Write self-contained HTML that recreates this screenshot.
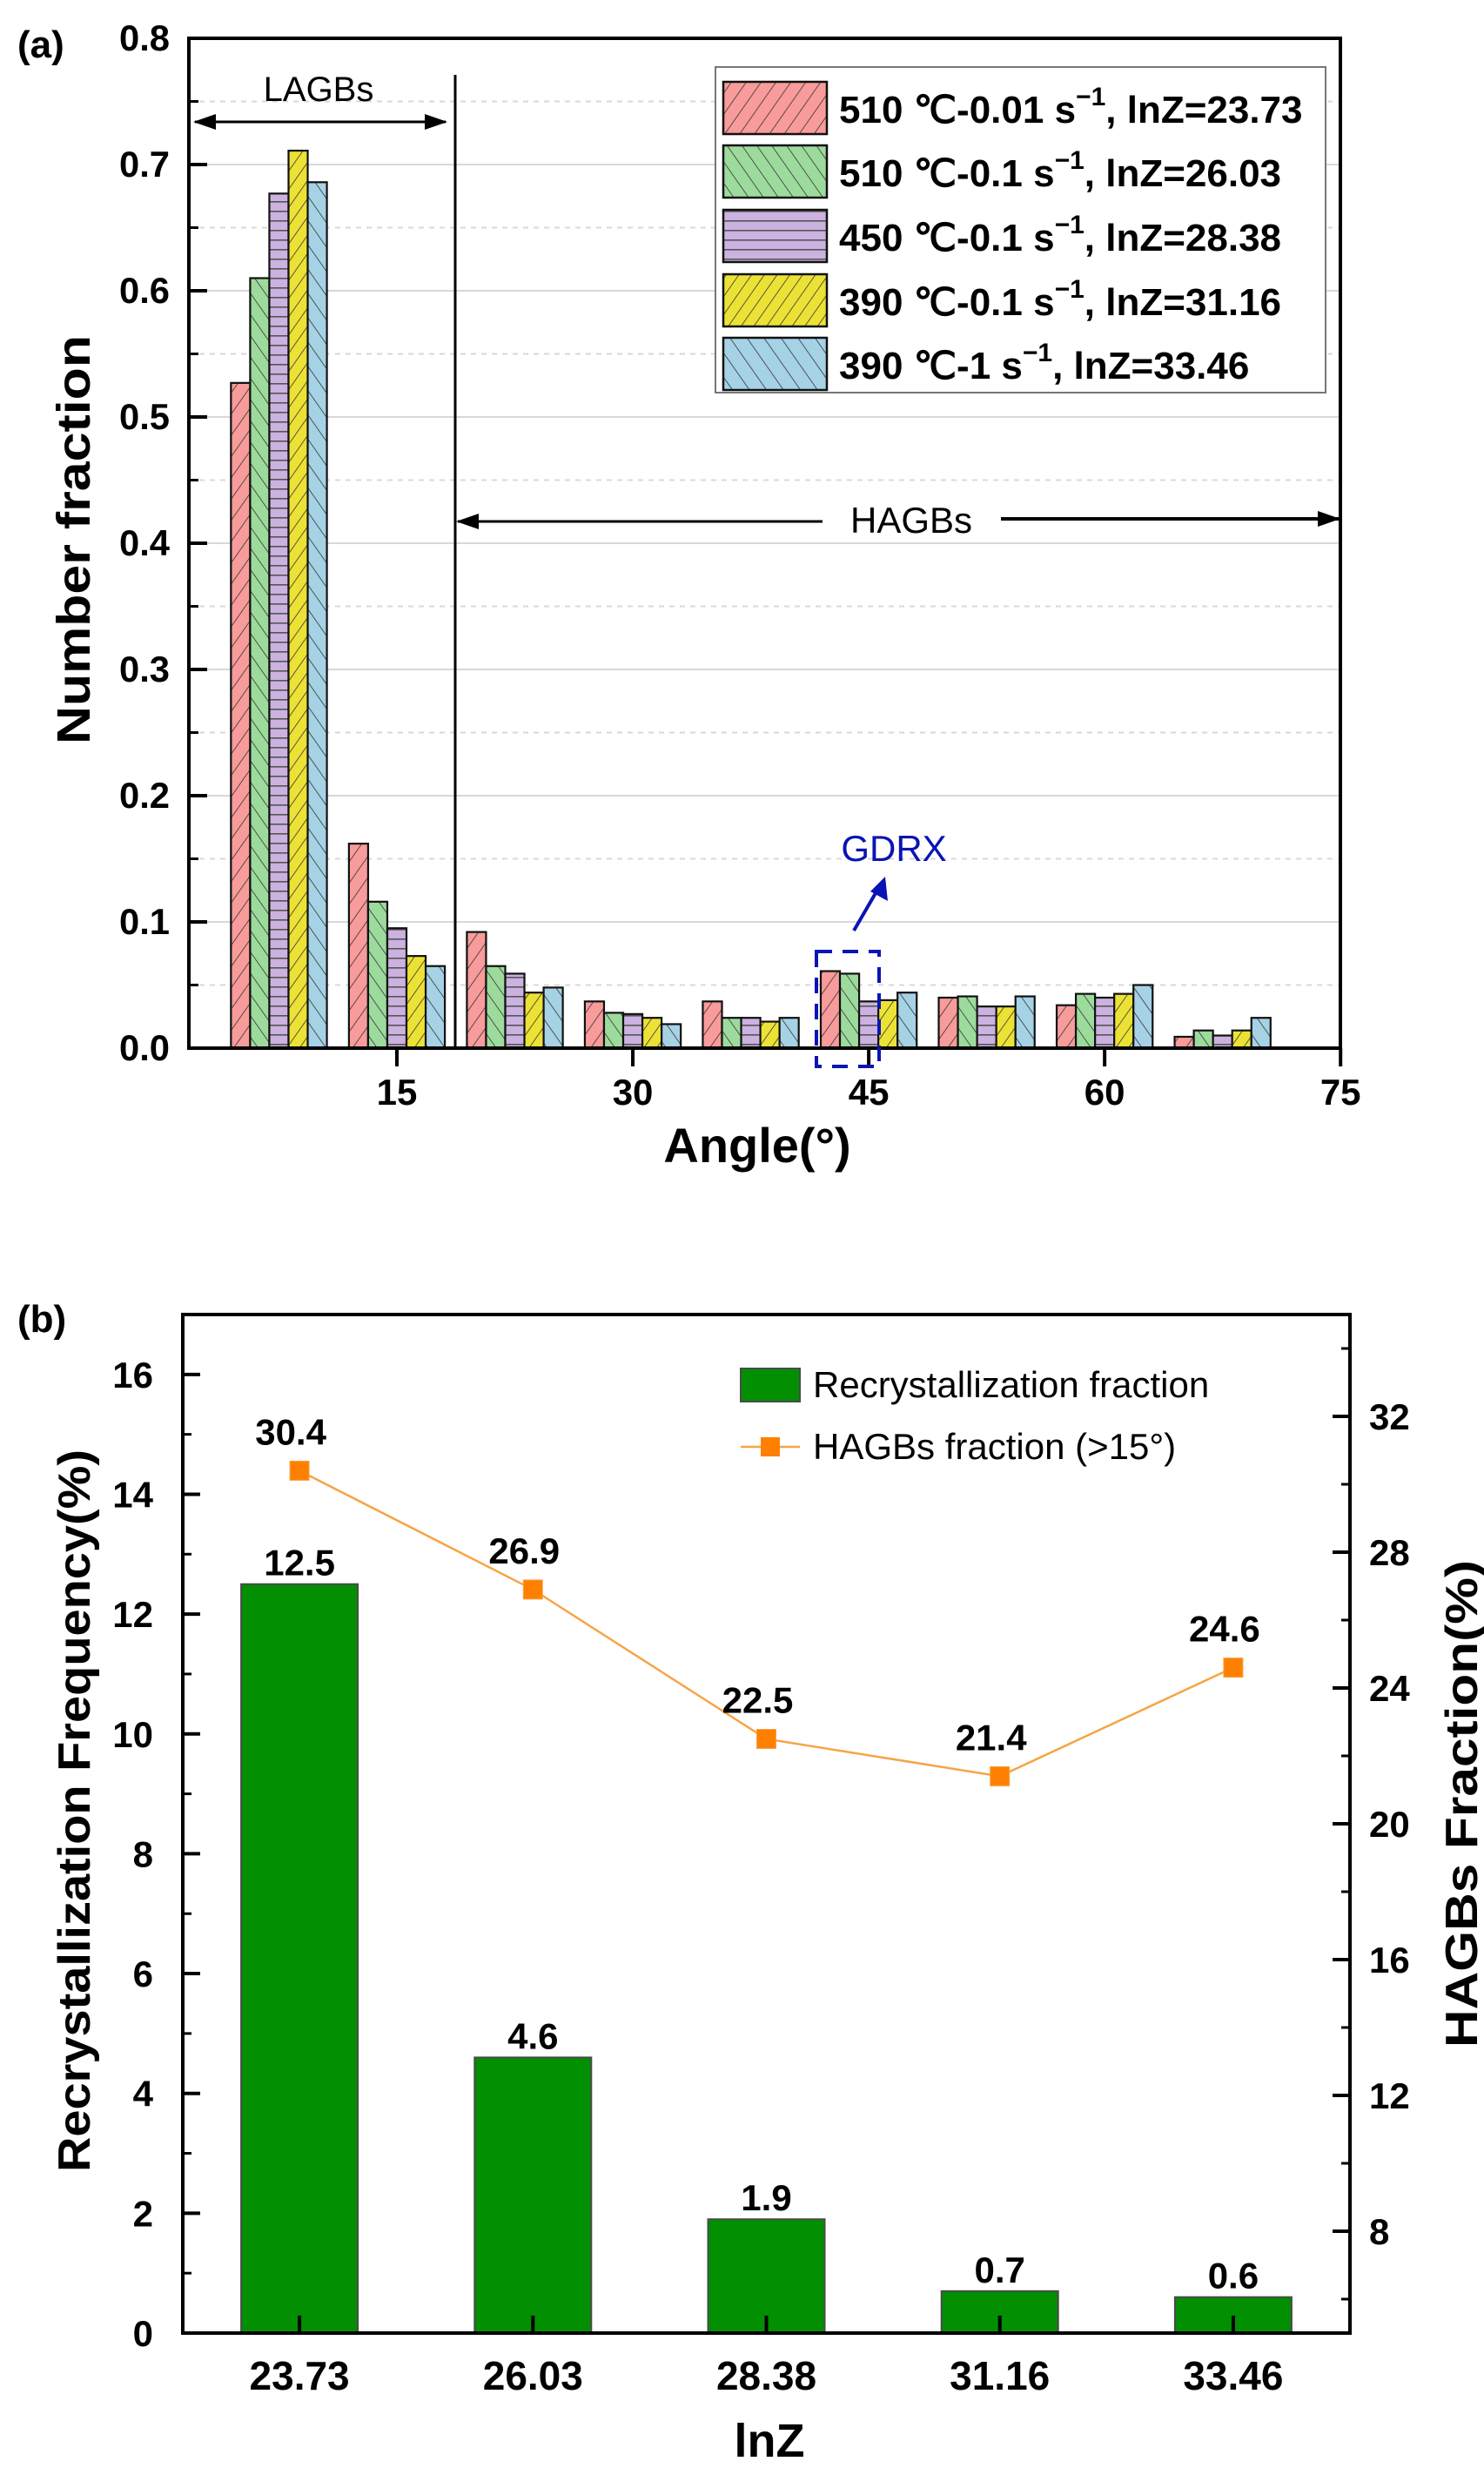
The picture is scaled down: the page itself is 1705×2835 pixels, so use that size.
<!DOCTYPE html>
<html><head><meta charset="utf-8"><style>
html,body{margin:0;padding:0;background:#fff}
svg{display:block}
text{font-family:"Liberation Sans Narrow","Liberation Sans",sans-serif}
.b{font-weight:bold}
.w{font-family:"Liberation Sans",sans-serif}
</style></head><body>
<svg id="fig" xmlns="http://www.w3.org/2000/svg" width="1705" height="2835" viewBox="0 0 1705 2835">
<defs>
<pattern id="pr" patternUnits="userSpaceOnUse" width="14" height="14" patternTransform="rotate(35)"><rect width="14" height="14" fill="#f89b9b"/><line x1="0" y1="0" x2="0" y2="14" stroke="#333" stroke-width="1.6"/></pattern>
<pattern id="pg" patternUnits="userSpaceOnUse" width="14" height="14" patternTransform="rotate(-35)"><rect width="14" height="14" fill="#9ddb9d"/><line x1="0" y1="0" x2="0" y2="14" stroke="#333" stroke-width="1.6"/></pattern>
<pattern id="pp" patternUnits="userSpaceOnUse" width="14" height="11"><rect width="14" height="11" fill="#cbb2e0"/><line x1="0" y1="0.8" x2="14" y2="0.8" stroke="#555" stroke-width="1.6"/></pattern>
<pattern id="py" patternUnits="userSpaceOnUse" width="12" height="12" patternTransform="rotate(35)"><rect width="12" height="12" fill="#ece236"/><line x1="0" y1="0" x2="0" y2="12" stroke="#333" stroke-width="1.6"/></pattern>
<pattern id="pb" patternUnits="userSpaceOnUse" width="16" height="16" patternTransform="rotate(-35)"><rect width="16" height="16" fill="#a6d2e6"/><line x1="0" y1="0" x2="0" y2="16" stroke="#333" stroke-width="1.6"/></pattern>
<marker id="ah" markerWidth="26" markerHeight="18" refX="24" refY="9" orient="auto-start-reverse" markerUnits="userSpaceOnUse"><path d="M0,0 L26,9 L0,18 Z" fill="#000"/></marker>
</defs>
<g id="ga"></g>
<g id="gb"></g>
</svg>
<script>
// ---------- Chart (a) data ----------
const angleCenters = [7.5, 15, 22.5, 30, 37.5, 45, 52.5, 60, 67.5];
const seriesNames = ["510 \u2103-0.01 s", "510 \u2103-0.1 s", "450 \u2103-0.1 s", "390 \u2103-0.1 s", "390 \u2103-1 s"];
const seriesLnZ = ["lnZ=23.73", "lnZ=26.03", "lnZ=28.38", "lnZ=31.16", "lnZ=33.46"];
const s510_001 = [0.527, 0.162, 0.092, 0.037, 0.037, 0.061, 0.040, 0.034, 0.009];
const s510_01  = [0.610, 0.116, 0.065, 0.028, 0.024, 0.059, 0.041, 0.043, 0.014];
const s450_01  = [0.677, 0.095, 0.059, 0.027, 0.024, 0.037, 0.033, 0.040, 0.010];
const s390_01  = [0.711, 0.073, 0.044, 0.024, 0.021, 0.038, 0.033, 0.043, 0.014];
const s390_1   = [0.686, 0.065, 0.048, 0.019, 0.024, 0.044, 0.041, 0.050, 0.024];
const aYTicks = [0.0, 0.1, 0.2, 0.3, 0.4, 0.5, 0.6, 0.7, 0.8];
const aXTicks = [15, 30, 45, 60, 75];
// ---------- Chart (b) data ----------
const lnZCats = ["23.73", "26.03", "28.38", "31.16", "33.46"];
const recryst = [12.5, 4.6, 1.9, 0.7, 0.6];
const hagbs = [30.4, 26.9, 22.5, 21.4, 24.6];
const bLeftTicks = [0, 2, 4, 6, 8, 10, 12, 14, 16];
const bRightTicks = [8, 12, 16, 20, 24, 28, 32];

const NS = "http://www.w3.org/2000/svg";
function mk(parent, tag, attrs, txt){
  const e = document.createElementNS(NS, tag);
  for (const k in attrs) e.setAttribute(k, attrs[k]);
  if (txt !== undefined) e.textContent = txt;
  parent.appendChild(e); return e;
}
const ga = document.getElementById('ga');
const gb = document.getElementById('gb');

// ===== Chart a =====
const aL = 217, aR = 1540, aT = 44, aB = 1204;
const ax = a => 456 + (a - 15) * 18.07;
const ay = v => aB - v / 0.8 * (aB - aT);
for (let v = 0.05; v < 0.8; v += 0.05) {
  const major = Math.abs(v*10 - Math.round(v*10)) < 1e-6;
  const gl = mk(ga, 'line', {x1:aL, x2:aR, y1:ay(v), y2:ay(v), stroke:'#d8d8d8', 'stroke-width':2, 'stroke-dasharray': major ? '' : '6,6'});
  
  
}
const aSeries = [s510_001, s510_01, s450_01, s390_01, s390_1];
const pats = ['pr','pg','pp','py','pb'];
const bw = 1.22;
aSeries.forEach((s, si) => {
  s.forEach((v, i) => {
    const a0 = angleCenters[i] - 2.5*bw + si*bw;
    const x0 = ax(a0), x1 = ax(a0 + bw);
    const r = mk(ga, 'rect', {x:x0, y:ay(v), width:x1-x0, height:aB-ay(v), fill:'url(#'+pats[si]+')', stroke:'#111', 'stroke-width':2.2});
    
    
  });
});
let fr = mk(ga, 'rect', {x:aL, y:aT, width:aR-aL, height:aB-aT, fill:'none', stroke:'#000', 'stroke-width':4});


aYTicks.forEach(v => {
  const t = mk(ga, 'line', {x1:aL, x2:aL+21, y1:ay(v), y2:ay(v), stroke:'#000', 'stroke-width':4});
  
  
  const l = mk(ga, 'text', {x:195, y:ay(v)+14, 'text-anchor':'end', 'font-size':42, class:'b', textLength:58, lengthAdjust:'spacingAndGlyphs'}, v.toFixed(1));
  
  
});
for (let v = 0.05; v < 0.8; v += 0.1) {
  const t = mk(ga, 'line', {x1:aL, x2:aL+11, y1:ay(v), y2:ay(v), stroke:'#000', 'stroke-width':3});
  
  
}
aXTicks.forEach(a => {
  const t = mk(ga, 'line', {x1:ax(a), x2:ax(a), y1:aB, y2:aB+21, stroke:'#000', 'stroke-width':4});
  
  
  const l = mk(ga, 'text', {x:ax(a), y:aB+65, 'text-anchor':'middle', 'font-size':42, class:'b'}, String(a));
  
  
});
</script>
<script>
(function(){
  let t;
  t = mk(ga, 'text', {x:20, y:66, 'font-size':44, class:'b w'}, '(a)');
   
  t = mk(ga, 'text', {x:870, y:1335, 'text-anchor':'middle', 'font-size':56, class:'b w'}, 'Angle(\u00b0)');
   
  t = mk(ga, 'text', {x:0, y:0, 'text-anchor':'middle', 'font-size':54, class:'b w', transform:'translate(103,620) rotate(-90)', textLength:470, lengthAdjust:'spacingAndGlyphs'}, 'Number fraction');
   
  t = mk(ga, 'line', {x1:523, x2:523, y1:86, y2:1204, stroke:'#000', 'stroke-width':3});
   
  t = mk(ga, 'line', {x1:224, x2:512, y1:140, y2:140, stroke:'#000', 'stroke-width':3, 'marker-end':'url(#ah)', 'marker-start':'url(#ah)'});
   
  t = mk(ga, 'text', {x:366, y:116, 'text-anchor':'middle', 'font-size':40, class:'w'}, 'LAGBs');
   
  t = mk(ga, 'line', {x1:945, x2:526, y1:599, y2:599, stroke:'#000', 'stroke-width':3, 'marker-end':'url(#ah)'});
   
  t = mk(ga, 'line', {x1:1150, x2:1538, y1:596, y2:596, stroke:'#000', 'stroke-width':4, 'marker-end':'url(#ah)'});
   
  t = mk(ga, 'text', {x:1047, y:612, 'text-anchor':'middle', 'font-size':42, class:'w'}, 'HAGBs');
   
  t = mk(ga, 'rect', {x:938, y:1093, width:72, height:132, fill:'none', stroke:'#0a14b4', 'stroke-width':4, 'stroke-dasharray':'18,12'});
   
  t = mk(ga, 'line', {x1:981, y1:1069, x2:1010, y2:1019, stroke:'#0a14b4', 'stroke-width':4});
   
  t = mk(ga, 'path', {d:'M1017,1007 L1020,1035 L1000,1024 Z', fill:'#0a14b4'});
   
  t = mk(ga, 'text', {x:1027, y:989, 'text-anchor':'middle', 'font-size':42, fill:'#0a14b4', class:'w'}, 'GDRX');
   
  t = mk(ga, 'rect', {x:822, y:77, width:701, height:374, fill:'#fff', stroke:'#777', 'stroke-width':2});
   
  const rowY = [124, 197, 271, 345, 418];
  seriesNames.forEach((n, i) => {
    const sw = mk(ga, 'rect', {x:831, y:rowY[i]-30, width:119, height:60, fill:'url(#'+pats[i]+')', stroke:'#111', 'stroke-width':2.5});
     
    const tx = mk(ga, 'text', {x:964, y:rowY[i]+17, 'font-size':44, class:'b'});
     
    mk(tx, 'tspan', {}, n);
    mk(tx, 'tspan', {dy:-20, 'font-size':30}, '\u22121');
    mk(tx, 'tspan', {dy:20}, ',  ' + seriesLnZ[i]);
  });
})();

// ===== Chart b =====
const bL = 210, bR = 1551, bT = 1510, bB = 2680;
const by = v => bB - v / 17 * (bB - bT);
const by2 = v => bB - (v - 5) / 30 * (bB - bT);
const bx = i => bL + (bR - bL) / 5 * (i + 0.5);
recryst.forEach((v, i) => {
  const r = mk(gb, 'rect', {x:bx(i)-67, y:by(v), width:134, height:bB-by(v), fill:'#028f02', stroke:'#4a4a4a', 'stroke-width':2});
  
  
  const l = mk(gb, 'text', {x:bx(i), y:by(v)-10, 'text-anchor':'middle', 'font-size':42, class:'b'}, v.toFixed(1));
   
});
let fb = mk(gb, 'rect', {x:bL, y:bT, width:bR-bL, height:bB-bT, fill:'none', stroke:'#000', 'stroke-width':4});
 
bLeftTicks.forEach(v => {
  const t = mk(gb, 'line', {x1:bL, x2:bL+20, y1:by(v), y2:by(v), stroke:'#000', 'stroke-width':4});
   
  const m = mk(gb, 'line', {x1:bL, x2:bL+10, y1:by(v+1), y2:by(v+1), stroke:'#000', 'stroke-width':3});
   
  const l = mk(gb, 'text', {x:176, y:by(v)+15, 'text-anchor':'end', 'font-size':42, class:'b'}, String(v));
   
});
bRightTicks.forEach(v => {
  const t = mk(gb, 'line', {x1:bR-20, x2:bR, y1:by2(v), y2:by2(v), stroke:'#000', 'stroke-width':4});
   
  const m = mk(gb, 'line', {x1:bR-10, x2:bR, y1:by2(v+2), y2:by2(v+2), stroke:'#000', 'stroke-width':3});
   
  const l = mk(gb, 'text', {x:1573, y:by2(v)+15, 'font-size':42, class:'b'}, String(v));
   
});
{ const m = mk(gb, 'line', {x1:bR-10, x2:bR, y1:by2(6), y2:by2(6), stroke:'#000', 'stroke-width':3});
    }
lnZCats.forEach((c, i) => {
  const t = mk(gb, 'line', {x1:bx(i), x2:bx(i), y1:bB-20, y2:bB, stroke:'#000', 'stroke-width':4});
   
  const l = mk(gb, 'text', {x:bx(i), y:2745, 'text-anchor':'middle', 'font-size':46, class:'b'}, c);
   
});
const pts = hagbs.map((v, i) => bx(i) + ',' + by2(v)).join(' ');
let pl = mk(gb, 'polyline', {points:pts, fill:'none', stroke:'#f7a445', 'stroke-width':2.5});
 
hagbs.forEach((v, i) => {
  const m = mk(gb, 'rect', {x:bx(i)-11, y:by2(v)-11, width:22, height:22, fill:'#ff8000', stroke:'#f7a445', 'stroke-width':1});
   
  const l = mk(gb, 'text', {x:bx(i)-10, y:by2(v)-30, 'text-anchor':'middle', 'font-size':42, class:'b'}, v.toFixed(1));
   
});
(function(){
  let t;
  t = mk(gb, 'text', {x:20, y:1530, 'font-size':44, class:'b w'}, '(b)');
   
  t = mk(gb, 'text', {x:884, y:2822, 'text-anchor':'middle', 'font-size':54, class:'b w'}, 'lnZ');
   
  t = mk(gb, 'text', {x:0, y:0, 'text-anchor':'middle', 'font-size':52, class:'b w', transform:'translate(103,2080) rotate(-90)', textLength:830, lengthAdjust:'spacingAndGlyphs'}, 'Recrystallization Frequency(%)');
   
  t = mk(gb, 'text', {x:0, y:0, 'text-anchor':'middle', 'font-size':52, class:'b w', transform:'translate(1697,2072) rotate(-90)', textLength:560, lengthAdjust:'spacingAndGlyphs'}, 'HAGBs  Fraction(%)');
   
  t = mk(gb, 'rect', {x:851, y:1572, width:68, height:38, fill:'#028f02', stroke:'#4a4a4a', 'stroke-width':2});
   
  t = mk(gb, 'text', {x:934, y:1605, 'font-size':42, class:'w'}, 'Recrystallization fraction');
   
  t = mk(gb, 'line', {x1:851, x2:919, y1:1662, y2:1662, stroke:'#f7a445', 'stroke-width':2.5});
   
  t = mk(gb, 'rect', {x:874, y:1651, width:22, height:22, fill:'#ff8000'});
   
  t = mk(gb, 'text', {x:934, y:1676, 'font-size':42, class:'w'}, 'HAGBs fraction (>15\u00b0)');
   
})();
</script>
</body></html>
